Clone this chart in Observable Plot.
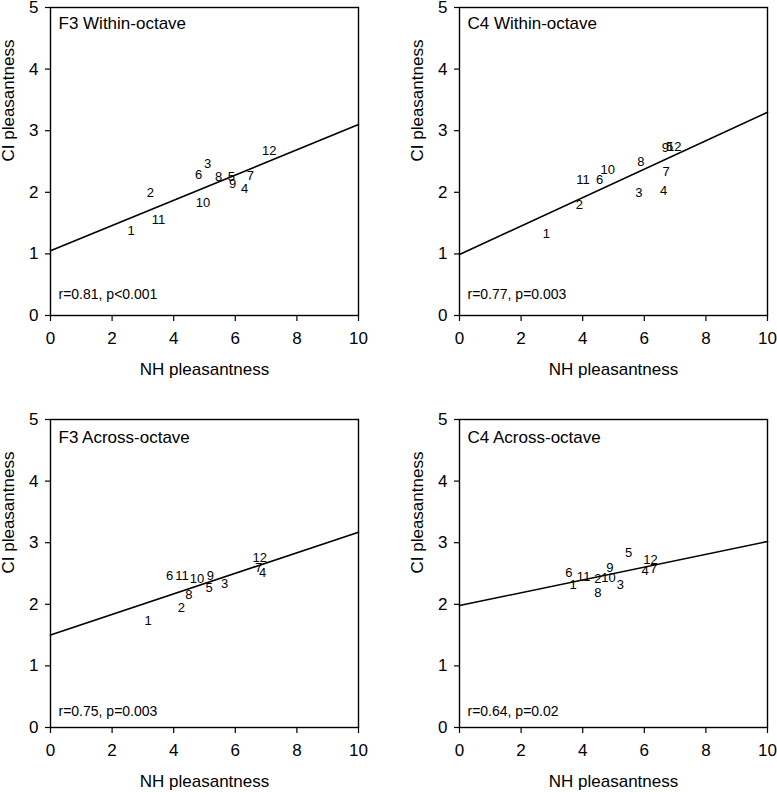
<!DOCTYPE html>
<html>
<head>
<meta charset="utf-8">
<script src="https://cdn.jsdelivr.net/npm/d3@7"></script>
<script src="https://cdn.jsdelivr.net/npm/@observablehq/plot@0.6"></script>
<style>
  html, body { margin: 0; padding: 0; background: #fff; }
  #wrap { position: relative; width: 777px; height: 792px; overflow: hidden; }
  .panel { position: absolute; }
  .panel svg { max-width: none !important; }
</style>
</head>
<body>
<div id="wrap"></div>
<script>
// ---- data ----
const pointLabels = ["1","2","3","4","5","6","7","8","9","10","11","12"];
const panelTitles = ["F3 Within-octave", "C4 Within-octave", "F3 Across-octave", "C4 Across-octave"];
const panelStats = ["r=0.81, p<0.001", "r=0.77, p=0.003", "r=0.75, p=0.003", "r=0.64, p=0.02"];

const f3WithinNH = [2.62, 3.24, 5.10, 6.30, 5.87, 4.81, 6.49, 5.46, 5.91, 4.95, 3.51, 7.10];
const f3WithinCI = [1.38, 1.99, 2.46, 2.06, 2.25, 2.28, 2.27, 2.25, 2.13, 1.83, 1.56, 2.68];

const c4WithinNH = [2.82, 3.89, 5.82, 6.63, 6.82, 4.55, 6.71, 5.89, 6.68, 4.81, 4.01, 6.97];
const c4WithinCI = [1.32, 1.79, 1.99, 2.03, 2.74, 2.21, 2.34, 2.49, 2.72, 2.36, 2.21, 2.74];

const f3AcrossNH = [3.17, 4.25, 5.65, 6.89, 5.15, 3.87, 6.76, 4.49, 5.19, 4.76, 4.27, 6.79];
const f3AcrossCI = [1.73, 1.94, 2.34, 2.51, 2.27, 2.47, 2.60, 2.16, 2.46, 2.42, 2.47, 2.75];

const c4AcrossNH = [3.69, 4.49, 5.22, 6.03, 5.49, 3.55, 6.30, 4.49, 4.88, 4.84, 4.03, 6.20];
const c4AcrossCI = [2.32, 2.41, 2.31, 2.55, 2.84, 2.51, 2.58, 2.19, 2.59, 2.43, 2.44, 2.72];

// regression line end values (at NH = 0 and NH = 10)
const fitNH = [0, 10];
const fitStartCI = [1.05, 0.99, 1.50, 1.98];
const fitEndCI = [3.10, 3.30, 3.17, 3.02];

const xTicks = [0, 2, 4, 6, 8, 10];
const yTicks = [0, 1, 2, 3, 4, 5];
const xLabel = "NH pleasantness";
const yLabel = "CI pleasantness";

// ---- layout ----
const panelNH = [f3WithinNH, c4WithinNH, f3AcrossNH, c4AcrossNH];
const panelCI = [f3WithinCI, c4WithinCI, f3AcrossCI, c4AcrossCI];
const layout = [
  {left: 0,   top: 0,   width: 388, mr: 30, height: 396, mt: 7, mb: 81, titleDy: 16, statDy: -21},
  {left: 409, top: 0,   width: 368, mr: 10, height: 396, mt: 7, mb: 81, titleDy: 16, statDy: -21},
  {left: 0,   top: 412, width: 388, mr: 30, height: 380, mt: 7, mb: 65, titleDy: 18, statDy: -16},
  {left: 409, top: 412, width: 368, mr: 10, height: 380, mt: 7, mb: 65, titleDy: 18, statDy: -16}
];
const FONT = "'Liberation Sans', Arial, Helvetica, sans-serif";
const wrap = document.getElementById("wrap");

for (let i = 0; i < 4; i++) {
  const L = layout[i];
  const pts = pointLabels.map((t, k) => ({label: t, nh: panelNH[i][k], ci: panelCI[i][k]}));
  const fit = fitNH.map((x, k) => ({nh: x, ci: k === 0 ? fitStartCI[i] : fitEndCI[i]}));
  const chart = Plot.plot({
    width: L.width,
    height: L.height,
    marginLeft: 50,
    marginRight: L.mr,
    marginTop: L.mt,
    marginBottom: L.mb,
    style: {fontFamily: FONT, fontSize: "16px", background: "white", color: "black", overflow: "visible"},
    x: {domain: [0, 10]},
    y: {domain: [0, 5]},
    marks: [
      Plot.frame({stroke: "black", strokeWidth: 1.4}),
      Plot.axisX({ticks: xTicks, tickFormat: d3.format("d"), tickSize: 6, tickPadding: 10, fontSize: 17, label: null, strokeWidth: 1.2}),
      Plot.axisY({ticks: yTicks, tickFormat: d3.format("d"), tickSize: 5, tickPadding: 7, fontSize: 17, label: null, strokeWidth: 1.2}),
      Plot.line(fit, {x: "nh", y: "ci", stroke: "black", strokeWidth: 1.6}),
      Plot.text(pts, {x: "nh", y: "ci", text: "label", fontSize: 13, fill: "black"}),
      Plot.text([panelTitles[i]], {frameAnchor: "top-left", dx: 8, dy: L.titleDy, lineAnchor: "middle", textAnchor: "start", fontSize: 17, fill: "black"}),
      Plot.text([panelStats[i]], {frameAnchor: "bottom-left", dx: 8, dy: L.statDy, lineAnchor: "middle", textAnchor: "start", fontSize: 14, fill: "black"}),
      Plot.text([xLabel], {frameAnchor: "bottom", dy: 54, lineAnchor: "middle", fontSize: 17, fill: "black"}),
      Plot.text([yLabel], {frameAnchor: "left", dx: -42, rotate: -90, lineAnchor: "middle", fontSize: 17, fill: "black"})
    ]
  });
  const div = document.createElement("div");
  div.className = "panel";
  div.style.left = L.left + "px";
  div.style.top = L.top + "px";
  div.appendChild(chart);
  wrap.appendChild(div);
}
</script>
</body>
</html>
